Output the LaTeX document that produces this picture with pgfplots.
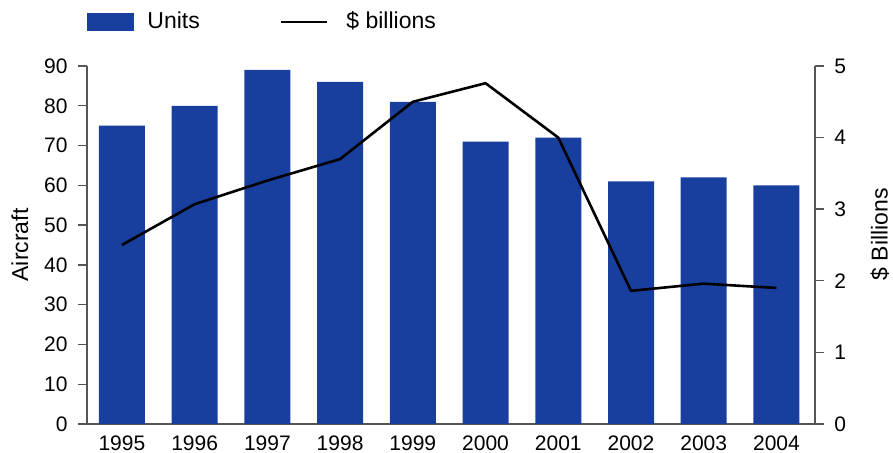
\documentclass[border=0pt]{standalone}
\usepackage{fontspec}
\setmainfont{Liberation Sans}
\usepackage{pgfplots}
\pgfplotsset{compat=1.18}
\definecolor{barblue}{RGB}{24,62,158}
\definecolor{axgray}{RGB}{85,85,85}
\begin{document}
\fontsize{10.5}{12}\selectfont
\begin{tikzpicture}
\pgfplotsset{
  common/.style={
    scale only axis, width=364pt, height=179pt,
    at={(0,0)}, anchor=south west,
    xmin=-0.48, xmax=9.53,
    /pgf/number format/assume math mode=true,
    tick align=outside, major tick length=4.5pt,
    axis line style={axgray, line width=0.7pt},
    tick style={axgray, line width=0.7pt},
    tick label style={font=\fontsize{10.5}{12}\selectfont},
    label style={font=\fontsize{11.5}{13}\selectfont},
  }
}
\begin{axis}[common,
  axis x line*=bottom, axis y line*=left,
  ymin=0, ymax=90, ytick={0,10,...,90},
  xtick={0,...,9},
  xticklabels={1995,1996,1997,1998,1999,2000,2001,2002,2003,2004},
  x tick style={draw=none},
  xticklabel style={yshift=2.5pt},
  yticklabel style={xshift=-1.5pt},
  ylabel={Aircraft},
  ylabel style={at={(axis description cs:-0.092,0.5)}, anchor=center, rotate=0},
  legend style={at={(axis description cs:0,1)}, anchor=west, yshift=22pt,
    draw=none, fill=none, inner sep=0pt, legend columns=2,
    /tikz/every even column/.append style={column sep=38pt},
    font=\fontsize{11.5}{13}\selectfont},
  legend cell align=left,
]
\addplot[ybar, bar width=23pt, fill=barblue, draw=none,
  legend image code/.code={\fill[barblue] (0pt,-4.6pt) rectangle (23.5pt,4.6pt); \path (28pt,0pt);}]
  coordinates {(0,75) (1,80) (2,89) (3,86) (4,81) (5,71) (6,72) (7,61) (8,62) (9,60)};
\addlegendentry{Units}
\addlegendimage{black, line width=1.3pt, legend image code/.code={\draw[black, line width=1.3pt] (0pt,0pt) -- (23pt,0pt); \path (30pt,0pt);}}
\addlegendentry{\$ billions}
\end{axis}
\begin{axis}[common,
  axis x line=none, axis y line*=right,
  ymin=0, ymax=5, ytick={0,...,5},
  yticklabel style={xshift=1.5pt},
  ylabel={\$ Billions},
  ylabel style={at={(axis description cs:1.089,0.53)}, anchor=center, rotate=0},
]
\addplot[black, line width=1.3pt, mark=none]
  coordinates {(0,2.5) (1,3.07) (2,3.4) (3,3.7) (4,4.5) (5,4.76) (6,4.0) (7,1.86) (8,1.96) (9,1.9)};
\end{axis}
\pgfresetboundingbox
\path[use as bounding box] (-43.5pt,-14.5pt) rectangle (403pt,212pt);
\end{tikzpicture}
\end{document}
